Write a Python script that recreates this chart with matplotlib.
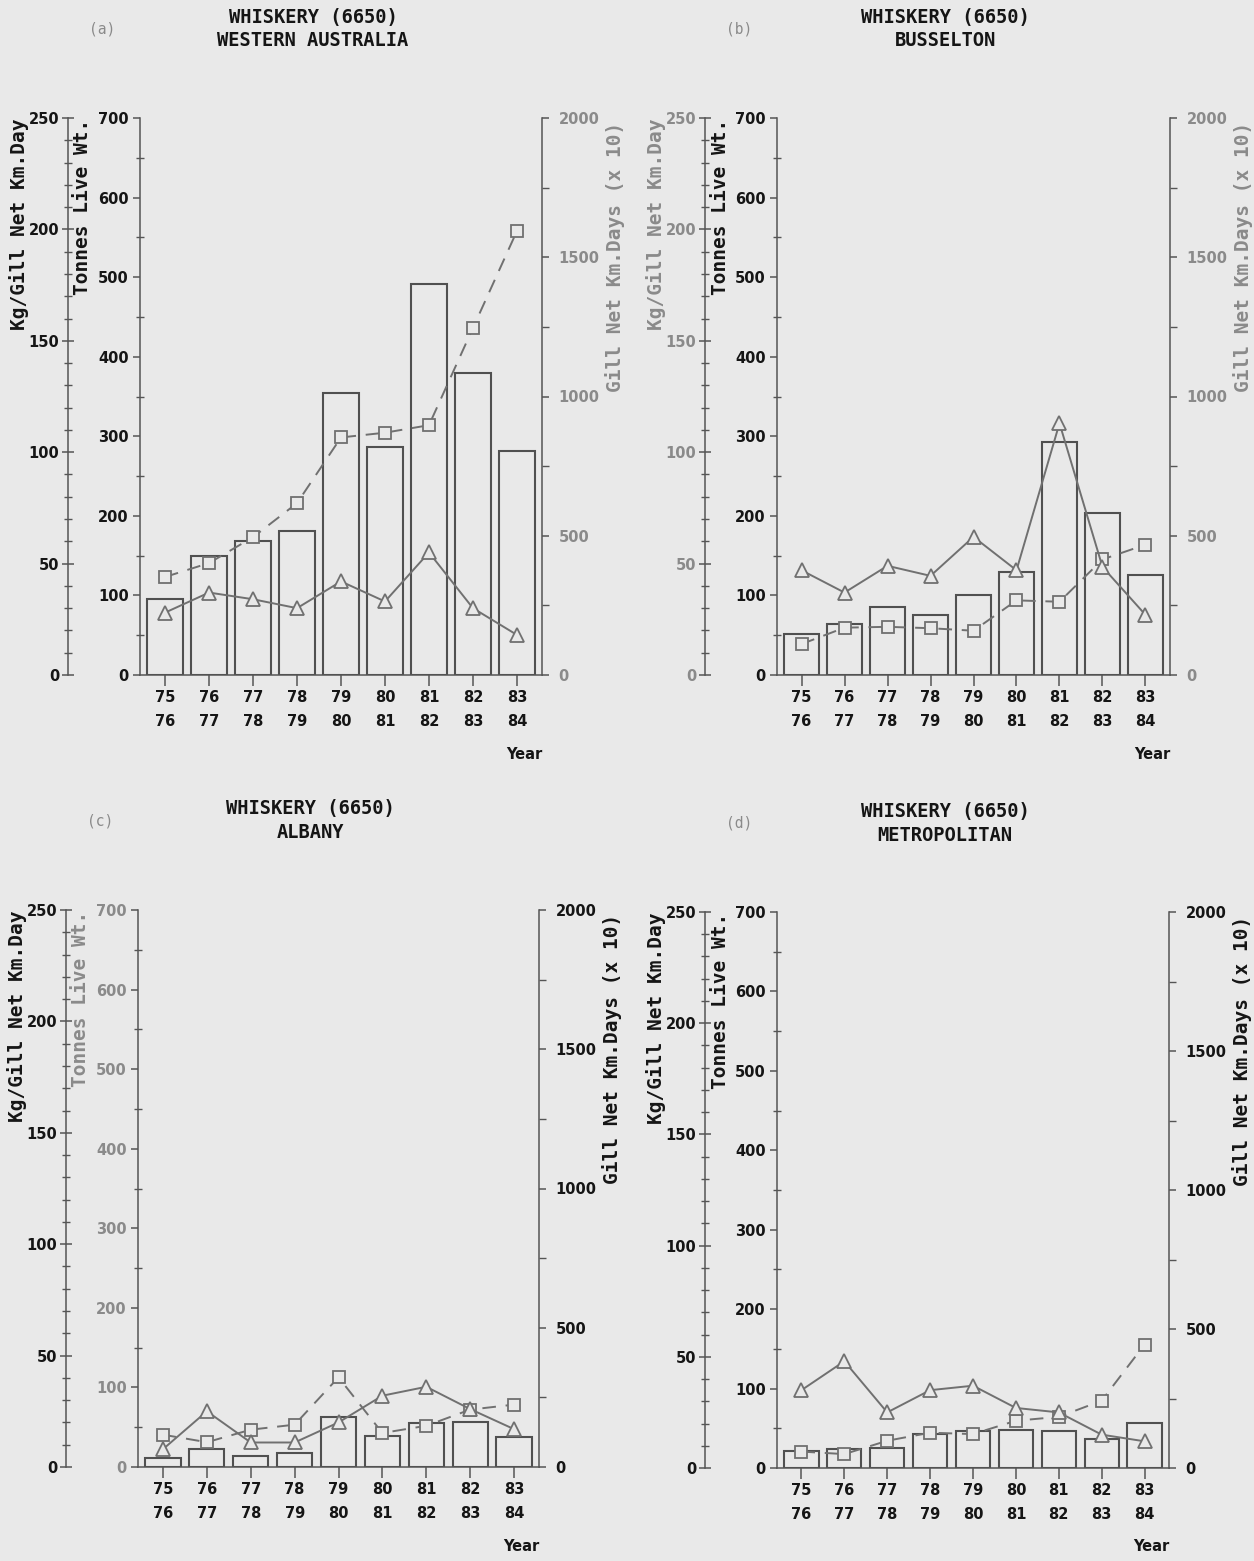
import numpy as np
import matplotlib.pyplot as plt
from matplotlib.ticker import MultipleLocator

# fishing seasons
seasons = ['75\n76', '76\n77', '77\n78', '78\n79', '79\n80',
           '80\n81', '81\n82', '82\n83', '83\n84']

tags = ['(a)', '(b)', '(c)', '(d)']
regions = ['WESTERN AUSTRALIA', 'BUSSELTON', 'ALBANY', 'METROPOLITAN']

# catch, tonnes live weight (bars)
catch_wa = [96, 149, 169, 181, 355, 286, 492, 380, 282]
catch_bus = [52, 64, 86, 76, 100, 129, 293, 203, 126]
catch_alb = [11, 22, 14, 17, 63, 39, 55, 56, 38]
catch_met = [21, 24, 25, 43, 46, 48, 46, 36, 57]

# catch rate, kg / gill net km.day (triangles)
cpue_wa = [28, 37, 34, 30, 42, 33, 55, 30, 18]
cpue_bus = [47, 37, 49, 44.5, 62, 47, 113, 48.5, 27]
cpue_alb = [8, 25, 11, 11, 20, 32, 36, 26, 17]
cpue_met = [35, 48, 25, 35, 37, 27, 25, 15, 12]

# effort, gill net km.days x 10 (squares)
effort_wa = [352, 402, 495, 617, 853, 870, 897, 1246, 1594]
effort_bus = [111, 170, 173, 168, 159, 268, 263, 415, 468]
effort_alb = [116, 89, 134, 152, 322, 122, 148, 206, 224]
effort_met = [59, 50, 98, 127, 122, 170, 184, 242, 444]

W, H = 1254, 1561
BG = '#e9e9e9'
SPINE = '#555555'
BAR = '#505050'
LINE = '#707070'
DARK = '#151515'
GREY = '#8a8a8a'

fig = plt.figure(figsize=(W / 100, H / 100), dpi=100, facecolor=BG)


def fx(px):
    return px / W


def fy(py):
    return 1 - py / H


def draw_panel(box, catch, cpue, effort, tag, region, cols):
    left, top, right, bottom = box
    c_out, c_ton, c_eff = cols
    ax = fig.add_axes([fx(left), fy(bottom), fx(right - left), (bottom - top) / H])
    ax.set_facecolor('none')
    x = np.arange(len(seasons))

    ax.bar(x, catch, width=0.8, facecolor='none', edgecolor=BAR, linewidth=1.5)
    ax.set_xlim(-0.57, 8.57)
    ax.set_ylim(0, 700)
    ax.yaxis.set_major_locator(MultipleLocator(100))
    ax.yaxis.set_minor_locator(MultipleLocator(50))
    for s in ['top', 'right']:
        ax.spines[s].set_visible(False)
    for s in ['left', 'bottom']:
        ax.spines[s].set_color(SPINE)
        ax.spines[s].set_linewidth(1.1)
    ax.set_xticks(x)
    ax.set_xticklabels(seasons, fontsize=10.5, fontweight='bold', color=DARK,
                       linespacing=1.75)
    ax.tick_params(axis='x', direction='out', length=8, width=1.1, color=SPINE, pad=3)
    ax.tick_params(axis='y', which='major', direction='out', length=5, width=1.1,
                   color=SPINE, pad=3, labelsize=10.5, labelcolor=c_ton)
    ax.tick_params(axis='y', which='minor', direction='inout', length=6, width=1,
                   color=SPINE)
    for t in ax.get_yticklabels():
        t.set_fontweight('bold')

    # effort axis on the right
    ax_e = ax.twinx()
    ax_e.set_ylim(0, 2000)
    ax_e.yaxis.set_major_locator(MultipleLocator(500))
    ax_e.yaxis.set_minor_locator(MultipleLocator(250))
    for s in ['top', 'left', 'bottom']:
        ax_e.spines[s].set_visible(False)
    ax_e.spines['right'].set_color(SPINE)
    ax_e.spines['right'].set_linewidth(1.1)
    ax_e.tick_params(axis='y', which='major', direction='out', length=5, width=1.1,
                     color=SPINE, pad=7, labelsize=10.5, labelcolor=c_eff)
    ax_e.tick_params(axis='y', which='minor', direction='out', length=5, width=1,
                     color=SPINE)
    for t in ax_e.get_yticklabels():
        t.set_fontweight('bold')
    ax_e.plot(x, effort, color=LINE, lw=1.4, ls=(0, (7, 5)), marker='s',
              ms=9, mfc=BG, mec=LINE, mew=1.3)

    # catch rate axis, outer left
    ax_k = ax.twinx()
    ax_k.set_ylim(0, 250)
    ax_k.yaxis.set_ticks_position('left')
    ax_k.yaxis.set_label_position('left')
    ax_k.yaxis.set_major_locator(MultipleLocator(50))
    ax_k.yaxis.set_minor_locator(MultipleLocator(10))
    for s in ['top', 'right', 'bottom']:
        ax_k.spines[s].set_visible(False)
    ax_k.spines['left'].set_visible(True)
    ax_k.spines['left'].set_position(('outward', 52))
    ax_k.spines['left'].set_color(SPINE)
    ax_k.spines['left'].set_linewidth(1.1)
    ax_k.tick_params(axis='y', which='major', direction='inout', length=8, width=1.1,
                     color=SPINE, pad=2, labelsize=10.5, labelcolor=c_out)
    ax_k.tick_params(axis='y', which='minor', direction='inout', length=6, width=1,
                     color=SPINE)
    for t in ax_k.get_yticklabels():
        t.set_fontweight('bold')
    ax_k.plot(x, cpue, color=LINE, lw=1.4, marker='^', ms=10, mfc=BG,
              mec=LINE, mew=1.3)

    # texts
    ax.text(1.0, -0.142, 'Year', transform=ax.transAxes, ha='right', va='center',
            fontsize=10.5, fontweight='bold', color=DARK)
    lab = dict(family='DejaVu Sans Mono', fontweight='bold', fontsize=14,
               rotation=90, ha='center', va='top')
    fig.text(fx(left - 121), fy(top + 1), 'Kg/Gill Net Km.Day', color=c_out, **lab)
    fig.text(fx(left - 57), fy(top + 1), 'Tonnes Live Wt.', color=c_ton, **lab)
    fig.text(fx(right + 73), fy(top + 4), 'Gill Net Km.Days (x 10)', color=c_eff, **lab)

    mid = (left + right) / 2 - 28
    ttl = dict(family='DejaVu Sans Mono', fontweight='bold', fontsize=13.5,
               ha='center', va='center', color=DARK)
    fig.text(fx(mid), fy(top - 101), 'WHISKERY (6650)', **ttl)
    fig.text(fx(mid), fy(top - 77), region, **ttl)
    fig.text(fx(left - 38), fy(top - 89), tag, ha='center', va='center',
             fontsize=10.5, color=GREY, family='DejaVu Sans Mono')


draw_panel((140, 118, 542, 675), catch_wa, cpue_wa, effort_wa, tags[0], regions[0],
           (DARK, DARK, GREY))
draw_panel((777, 118, 1170, 675), catch_bus, cpue_bus, effort_bus, tags[1], regions[1],
           (GREY, DARK, GREY))
draw_panel((138, 910, 539, 1467), catch_alb, cpue_alb, effort_alb, tags[2], regions[2],
           (DARK, GREY, DARK))
draw_panel((777, 912, 1169, 1468), catch_met, cpue_met, effort_met, tags[3], regions[3],
           (DARK, DARK, DARK))

fig.savefig('out.png', dpi=100, facecolor=BG)
